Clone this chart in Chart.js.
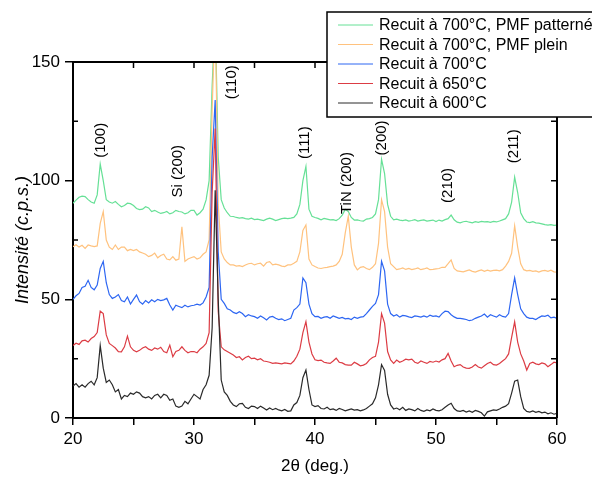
<!DOCTYPE html>
<html>
<head>
<meta charset="utf-8">
<script src="https://cdn.jsdelivr.net/npm/chart.js@4.4.0/dist/chart.umd.min.js"></script>
<style>
  html, body { margin: 0; padding: 0; background: #fff; }
  #wrap { width: 592px; height: 478px; }
</style>
</head>
<body>
<div id="wrap"><canvas id="xrdChart" width="592" height="478"></canvas></div>
<script>
// 2θ sampling (deg.)
const twoTheta = [
  20, 20.25, 20.5, 20.75, 21, 21.25, 21.5, 21.75,
  22, 22.25, 22.5, 22.75, 23, 23.25, 23.5, 23.75,
  24, 24.25, 24.5, 24.75, 25, 25.25, 25.5, 25.75,
  26, 26.25, 26.5, 26.75, 27, 27.25, 27.5, 27.75,
  28, 28.25, 28.5, 28.75, 29, 29.25, 29.5, 29.75,
  30, 30.25, 30.5, 30.75, 31, 31.25, 31.5, 31.75,
  32, 32.25, 32.5, 32.75, 33, 33.25, 33.5, 33.75,
  34, 34.25, 34.5, 34.75, 35, 35.25, 35.5, 35.75,
  36, 36.25, 36.5, 36.75, 37, 37.25, 37.5, 37.75,
  38, 38.25, 38.5, 38.75, 39, 39.25, 39.5, 39.75,
  40, 40.25, 40.5, 40.75, 41, 41.25, 41.5, 41.75,
  42, 42.25, 42.5, 42.75, 43, 43.25, 43.5, 43.75,
  44, 44.25, 44.5, 44.75, 45, 45.25, 45.5, 45.75,
  46, 46.25, 46.5, 46.75, 47, 47.25, 47.5, 47.75,
  48, 48.25, 48.5, 48.75, 49, 49.25, 49.5, 49.75,
  50, 50.25, 50.5, 50.75, 51, 51.25, 51.5, 51.75,
  52, 52.25, 52.5, 52.75, 53, 53.25, 53.5, 53.75,
  54, 54.25, 54.5, 54.75, 55, 55.25, 55.5, 55.75,
  56, 56.25, 56.5, 56.75, 57, 57.25, 57.5, 57.75,
  58, 58.25, 58.5, 58.75, 59, 59.25, 59.5, 59.75,
  60
];

const recuit600 = [
  13.5, 14.5, 13, 14, 13, 14.5, 15.5, 14,
  17, 30.5, 21, 15, 16, 14, 11, 12,
  8, 9.5, 9, 10.5, 10, 11, 10.5, 9,
  8.5, 9, 8, 9.5, 10, 8.5, 10, 9.5,
  7.5, 8, 5, 4.5, 5, 7, 6, 8,
  10, 9, 8, 12, 14, 18, 38, 96,
  50, 16, 11, 9.5, 7, 5.5, 4.8, 6,
  6.2, 4.5, 4, 5, 4.8, 4, 5, 4.2,
  3.4, 4.2, 3.5, 4, 3.4, 3, 3.6, 2.8,
  3, 5.5, 6.5, 9.5, 17, 20.2, 12, 5.5,
  4.8, 5.2, 4, 3.8, 4.5, 3.5, 3.8, 3.2,
  4, 3.6, 3, 3.4, 3.8, 3.3, 3.5, 3,
  3.4, 4, 5, 6, 8.5, 14, 22.5, 20,
  10, 5.5, 3.8, 4.2, 3.5, 4.5, 3.2, 3.8,
  3.5, 3, 4, 3.2, 2.8, 3.4, 3, 3.8,
  3.2, 3, 3.5, 4.5, 5.5, 6.2, 4, 3,
  2.8, 3.2, 2.5, 3, 2.4, 3.2, 2.8, 2.2,
  0.8, 2.6, 3, 3.4, 3.2, 3.8, 4.5, 5,
  6, 10.5, 15.5, 16, 9, 4, 2.8, 2.5,
  3, 2.4, 2.8, 2.2, 2.5, 1.8, 2.2, 1.6,
  2
];

const recuit650 = [
  30.5, 31.5, 31, 32.5, 32.8, 32, 33.5, 34.3,
  36, 45, 44, 35, 31.4, 30.5, 29.5, 28,
  27.9, 30, 34.5, 30, 28.5, 27.9, 28.5, 29.5,
  30, 29, 28.5, 29.5, 29, 29.8, 28, 27.5,
  30.7, 25.8, 28, 28.5, 30, 28.5, 27.5, 28,
  28, 27.5, 29, 30, 31.4, 36, 95, 122,
  45, 30, 28.7, 28, 27.3, 26.5, 25.5, 25.8,
  24.5, 25.5, 26, 25, 25.2, 24.5, 25, 24,
  23.8, 23.5, 23, 23.2, 23, 22.8, 23.2, 23,
  22.8, 24, 26, 29, 36, 40.6, 32, 27,
  24.5, 24.2, 24.4, 23.5, 23.2, 23, 24, 25.2,
  23.5, 23.2, 22.5, 22.3, 22.3, 23.5, 22.8, 22,
  22.3, 23, 24.5, 25.5, 26, 32, 44, 40,
  28, 24.5, 23, 24.4, 23.5, 24, 24.8, 24.5,
  24.8, 23.5, 23, 24, 23.5, 23, 23.8, 23.5,
  24, 23.6, 24.5, 25, 27.2, 24, 21.6, 22.2,
  22.5, 21.5, 21, 20.9, 21.5, 22.5, 21.5, 21,
  22, 23, 23.5, 22.5, 22.3, 23, 24, 25,
  27, 34, 40.5, 32, 27, 24, 20.2, 23,
  23.5, 22.8, 22.5, 23.2, 22.8, 21.6, 22.5, 23.5,
  23.2
];

const recuit700 = [
  50, 51.5, 52.5, 55, 55.5, 58, 55, 54,
  56, 63, 66, 57, 52, 50.4, 51, 52,
  49.5, 49, 51, 48, 50, 51.8, 49, 48,
  49.5, 48.5, 49.8, 49, 50, 49.5, 49.8, 50.4,
  47.6, 45.5, 47.5, 47, 46.5, 47.5, 46.8, 47.3,
  47.5, 48, 47.6, 48.5, 51, 55, 110, 134,
  70, 50, 48.3, 46, 45.5, 44.5, 44, 44.8,
  44, 42.7, 43.5, 43, 42.7, 42, 43, 42.2,
  41.3, 42.5, 42.8, 42, 41.5, 41.8, 41, 41.5,
  42, 45.5, 46.5, 48, 59, 57, 48, 44,
  42.7, 42.8, 42, 42.5, 42.7, 42, 43, 42.5,
  42, 42.4, 41.8, 42, 41.5, 42.5, 42, 42.5,
  42.7, 44, 45.5, 47, 48.3, 52, 66, 62,
  48, 44, 43, 43.5, 42.5, 43.2, 43, 42.6,
  42.3, 43, 42.8, 42.5, 43, 42.5, 43.3, 42.8,
  43, 42.5, 44, 45, 44.8, 43.5, 42.6, 42,
  42, 41.8, 41.5, 41, 41.3, 42, 42.5, 43,
  43.8, 42.5, 43.5, 43, 42.5, 43.5, 42.8, 42.5,
  44, 52, 59, 52, 46, 44, 42.5, 42,
  42, 41.5, 42.3, 43, 42.8, 43.3, 42.2, 42.5,
  42
];

const pmfPlein = [
  72.2, 73, 72, 72.8, 71.5, 72.9, 72.5, 72.2,
  72.5, 82, 87, 75, 72, 71, 72.9, 71,
  72, 72, 70.5, 71, 70.5, 71, 70, 69.5,
  69, 68, 68.5, 69.5, 67.5, 68.5, 69, 67,
  66.6, 68, 66.5, 67, 80.6, 66, 67, 67.5,
  68, 67, 67.5, 69, 70, 75, 130, 170,
  90, 70, 67, 65.5, 64.5, 64.5, 64, 64.2,
  63.8, 64.5, 65, 65.2, 64.5, 65, 65.2, 64,
  65.5, 65.9, 64.5, 64.8, 64.5, 64, 63.8, 64.5,
  64.5, 65.2, 66, 70, 79, 81.3, 67, 64.5,
  63.8, 63.2, 63, 63.3, 63.5, 63.8, 64, 64.5,
  66, 69, 78, 85, 72, 64.5, 62.4, 63.5,
  63.8, 63, 62.5, 63.5, 65, 73.6, 92, 87,
  72, 65, 63.8, 62.5, 62.8, 63.2, 62.6, 63,
  62.5, 62.8, 63.2, 62.5, 62.8, 63.2, 62.5, 62.6,
  62.8, 63, 63.5, 63.5, 65, 66.6, 63, 62,
  61.8, 61.6, 62, 62.4, 61.8, 61.5, 62, 62.4,
  61.8, 62.3, 61.9, 62.2, 62.3, 62, 62.5, 64,
  66, 69.4, 81, 72, 65, 62.5, 62, 62.2,
  61.8, 62, 61.5, 62, 62.2, 61.8, 62.3, 61.6,
  61.5
];

const pmfPatterne = [
  90.5, 91.8, 93, 93.5, 93.3, 92, 91, 90.5,
  94, 107, 100, 92, 91, 90.5, 91.2, 90,
  89, 89.5, 90.5, 90.3, 89.5, 88.3, 87.8, 88,
  89, 88.5, 87, 87.5, 86.8, 86.2, 86.5, 87,
  86, 86.5, 87.5, 87, 86.8, 86, 86.5, 87.5,
  87.5, 85.5, 86.5, 88, 91.9, 100, 140, 170,
  110, 92, 88.5, 86.5, 85, 84.9, 84.5, 84.2,
  84.4, 84, 83.8, 84.2, 83.6, 83.8, 83.5, 83.2,
  83.8, 84.2, 83.8, 83.2, 83.6, 84, 84.2, 84,
  84.2, 84.5, 86, 90, 100, 106, 88, 85,
  84.5, 84.1, 83.5, 84.1, 83.8, 83.5, 83.6, 83.2,
  84, 85.5, 87.9, 87, 84.5, 83.4, 83.5, 83.1,
  83, 83.8, 84, 84.5, 86, 92, 109, 103,
  90, 85, 83.5, 83.8, 83.4, 83.2, 83.5, 83,
  83.2, 83.6, 83, 83.3, 83.5, 83, 83.2, 83.4,
  82.8, 83.4, 83, 83.6, 84, 85.5, 83.5, 82.5,
  82.2, 82.7, 82.9, 82.5, 82.2, 82.7, 82.4, 82.8,
  82.6, 82.7, 82.4, 82.8, 82.6, 83, 83.5, 84,
  86, 91, 101.5, 95, 86.5, 84, 82.6, 82.3,
  82.7, 82.2, 82.1, 81.8, 81.5, 81.3, 81.5, 81.2,
  81.3
];

const seriesLabels = [
  "Recuit à 600°C",
  "Recuit à 650°C",
  "Recuit à 700°C",
  "Recuit à 700°C, PMF plein",
  "Recuit à 700°C, PMF patterné",
];
const seriesColors = ["#2a2a2a", "#dc3c44", "#2d66f2", "#ffc27e", "#66e096"];

// peak labels: text, 2θ position, intensity at the centre of the text
const peakLabels = ["(100)", "Si (200)", "(110)", "(111)", "TiN (200)", "(200)", "(210)", "(211)"];
const peakX = [22.3, 28.7, 33.1, 39.2, 42.6, 45.5, 51.0, 56.4];
const peakY = [117, 104, 141.5, 116, 99, 118, 98, 114.5];

const FONT = "'Liberation Sans', Arial, sans-serif";

const framePlugin = {
  id: "frame",
  afterDatasetsDraw(chart) {
    const { ctx, chartArea: a, scales } = chart;
    const x = scales.x;
    const y = scales.y;
    ctx.save();
    ctx.strokeStyle = "#000";
    ctx.lineWidth = 2;
    ctx.beginPath();
    ctx.moveTo(a.left, a.top);
    ctx.lineTo(a.right, a.top);
    ctx.lineTo(a.right, a.bottom);
    ctx.stroke();

    ctx.lineWidth = 1.5;
    ctx.beginPath();
    // top axis, inward ticks
    x.ticks.forEach((t) => {
      const px = x.getPixelForValue(t.value);
      ctx.moveTo(px, a.top);
      ctx.lineTo(px, a.top + 6);
    });
    // right axis, inward ticks
    y.ticks.forEach((t) => {
      const py = y.getPixelForValue(t.value);
      ctx.moveTo(a.right, py);
      ctx.lineTo(a.right - 6, py);
      // left minor ticks point inward
      if (t.value % 50 !== 0) {
        ctx.moveTo(a.left, py);
        ctx.lineTo(a.left + 5, py);
      }
    });
    ctx.stroke();

    // peak labels
    ctx.fillStyle = "#000";
    ctx.font = "15px " + FONT;
    ctx.textAlign = "center";
    ctx.textBaseline = "middle";
    peakLabels.forEach((txt, i) => {
      ctx.save();
      ctx.translate(x.getPixelForValue(peakX[i]), y.getPixelForValue(peakY[i]));
      ctx.rotate(-Math.PI / 2);
      ctx.fillText(txt, 0, 0);
      ctx.restore();
    });
    ctx.restore();
  },
  afterDraw(chart) {
    const ctx = chart.ctx;
    ctx.save();
    ctx.fillStyle = "#fff";
    ctx.fillRect(327, 12, 300, 105);
    ctx.strokeStyle = "#000";
    ctx.lineWidth = 1.5;
    ctx.strokeRect(327, 12, 300, 105);
    ctx.font = "16px " + FONT;
    ctx.textBaseline = "middle";
    ctx.textAlign = "left";
    const ds = chart.data.datasets.slice().reverse();
    ds.forEach((d, i) => {
      const yy = 25 + i * 19.5;
      ctx.strokeStyle = d.borderColor;
      ctx.lineWidth = 1;
      ctx.beginPath();
      ctx.moveTo(338, yy);
      ctx.lineTo(373, yy);
      ctx.stroke();
      ctx.fillStyle = "#000";
      ctx.fillText(d.label, 379, yy + 1);
    });
    ctx.restore();
  },
};

const seriesValues = [recuit600, recuit650, recuit700, pmfPlein, pmfPatterne];

new Chart(document.getElementById("xrdChart"), {
  type: "line",
  data: {
    datasets: seriesValues.map((vals, i) => ({
      label: seriesLabels[i],
      data: twoTheta.map((t, k) => ({ x: t, y: vals[k] })),
      borderColor: seriesColors[i],
      borderWidth: 1.2,
      pointRadius: 0,
      tension: 0,
      fill: false,
    })),
  },
  options: {
    responsive: false,
    animation: false,
    layout: { padding: { top: 62, right: 35, left: 0, bottom: 0 } },
    plugins: { legend: { display: false }, tooltip: { enabled: false } },
    scales: {
      x: {
        type: "linear",
        min: 20,
        max: 60,
        afterFit: (s) => { s.height = 60; },
        ticks: {
          stepSize: 5,
          autoSkip: false,
          maxRotation: 0,
          padding: 4,
          color: "#000",
          font: { size: 17, family: FONT },
          callback: (v) => (v % 10 === 0 ? v : ""),
        },
        grid: { drawOnChartArea: false, tickLength: 7, color: "#000", lineWidth: 1.5 },
        border: { color: "#000", width: 2 },
        title: {
          display: true,
          text: "2θ (deg.)",
          color: "#000",
          font: { size: 17, family: FONT },
          padding: { top: 0, bottom: 1 },
        },
      },
      y: {
        min: 0,
        max: 150,
        afterFit: (s) => { s.width = 73; },
        ticks: {
          stepSize: 25,
          padding: 5,
          color: "#000",
          font: { size: 17, family: FONT },
          callback: (v) => (v % 50 === 0 ? v : ""),
        },
        grid: {
          drawOnChartArea: false,
          tickLength: 8,
          lineWidth: 1.5,
          color: (c) => (c.tick && c.tick.value % 50 === 0 ? "#000" : "rgba(0,0,0,0)"),
        },
        border: { color: "#000", width: 2 },
        title: {
          display: true,
          text: "Intensité (c.p.s.)",
          color: "#000",
          font: { size: 18, family: FONT, style: "italic" },
          padding: { top: 12, bottom: 0 },
        },
      },
    },
  },
  plugins: [framePlugin],
});
</script>
</body>
</html>
